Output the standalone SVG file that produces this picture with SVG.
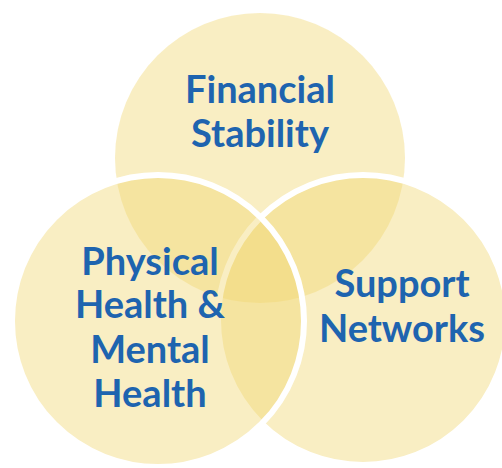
<svg xmlns="http://www.w3.org/2000/svg" width="502" height="468" viewBox="0 0 502 468">
<style>
.c{fill:#F1D66F;fill-opacity:0.42}
.s{stroke:#FFFFFF;stroke-width:6}
.t{font-family:Lato,"Open Sans","Liberation Sans",sans-serif;font-weight:bold;font-size:38px;fill:#1E64AF;text-anchor:middle}
</style>
<rect width="502" height="468" fill="#FFFFFF"/>
<g id="financial">
<circle class="c" cx="260" cy="158" r="145"/>
<text class="t" x="260" y="103">Financial</text>
<text class="t" x="260" y="147">Stability</text>
</g>
<g id="support">
<circle class="c s" cx="363" cy="320" r="145"/>
<text class="t" x="402" y="297">Support</text>
<text class="t" x="402" y="342">Networks</text>
</g>
<g id="health">
<circle class="c s" cx="158" cy="321" r="146"/>
<text class="t" x="150" y="275">Physical</text>
<text class="t" x="150" y="318">Health &amp;</text>
<text class="t" x="150" y="363">Mental</text>
<text class="t" x="150" y="407">Health</text>
</g>
<g id="connectors"></g>
</svg>
